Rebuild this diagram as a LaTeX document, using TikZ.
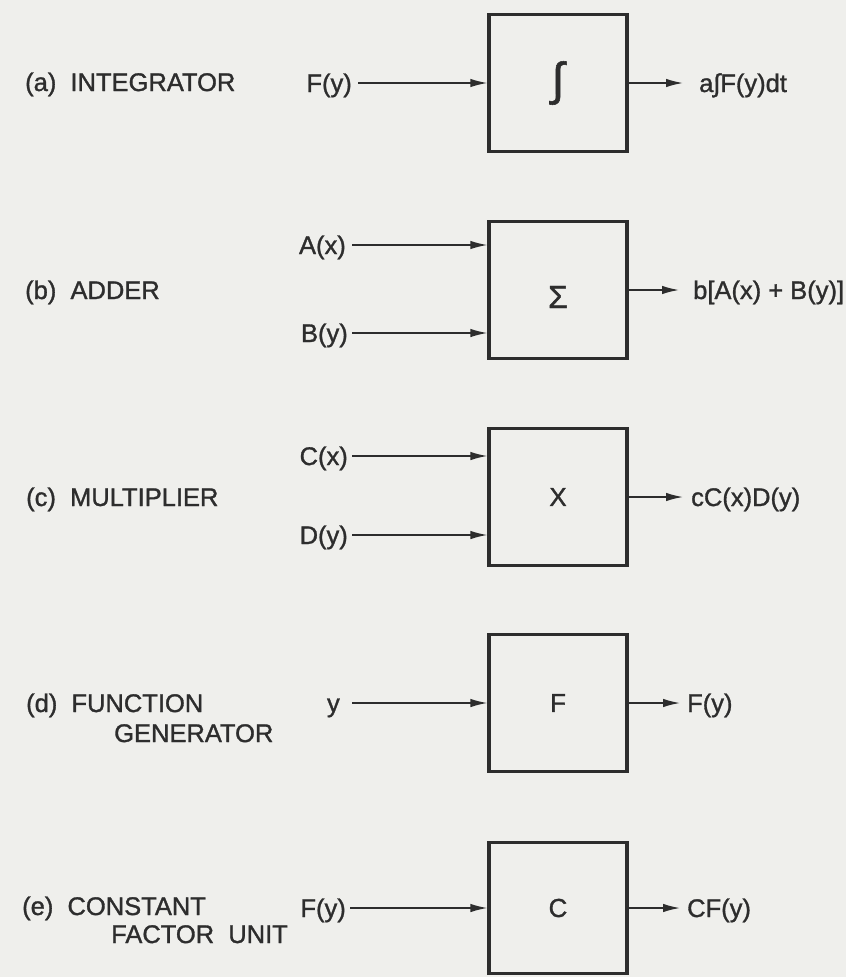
\documentclass[tikz,border=0pt]{standalone}
\usepackage{fontspec}
\setmainfont{Liberation Sans}[FakeBold=1.2]
\usetikzlibrary{arrows.meta}
\definecolor{paper}{RGB}{239,239,236}
\definecolor{ink}{RGB}{45,45,45}

\begin{document}
\begin{tikzpicture}[x=1pt,y=1pt,
  unit/.style={draw=ink, line width=3.2pt, minimum width=138pt, minimum height=137pt, inner sep=0pt, text=ink, font=\fontsize{26}{30}\selectfont},
  lbl/.style={text=ink, inner sep=0pt, text height=18pt, text depth=0pt, font=\fontsize{25.5}{30}\selectfont},
  sig/.style={draw=ink, line width=1.5pt, -{Latex[length=17pt,width=8.5pt]}}]
\useasboundingbox[fill=paper] (0,0) rectangle (846,-977);
% the five units
\node[unit, font=\fontsize{46}{50}\selectfont] (intg) at (558,-83) {∫};
\node[unit, font=\fontsize{32}{36}\selectfont] (addr) at (558,-290) {\raisebox{-18pt}[0pt][0pt]{Σ}};
\node[unit] (mult) at (558,-497) {X};
\node[unit] (fgen) at (558,-703) {F};
\node[unit, minimum height=131pt] (cfu) at (558,-908) {C};
% names on the left
\node[lbl, anchor=west] (la) at (25,-82) {(a)\ \ INTEGRATOR};
\node[lbl, anchor=west] (lb) at (25,-290) {(b)\ \ ADDER};
\node[lbl, anchor=west] (lc) at (26,-497) {(c)\ \ MULTIPLIER};
\node[lbl, anchor=west] (ld) at (26,-703) {(d)\ \ FUNCTION};
\node[lbl, anchor=west] (ld2) at (114,-733) {GENERATOR};
\node[lbl, anchor=west] (le) at (22,-906) {(e)\ \ CONSTANT};
\node[lbl, anchor=west] (le2) at (111,-934) {FACTOR\ \ UNIT};
% inputs
\node[lbl, anchor=east, inner xsep=6pt] (ina) at (358,-83) {F(y)};
\node[lbl, anchor=east, inner xsep=6pt] (inb1) at (352,-245) {A(x)};
\node[lbl, anchor=east, inner xsep=4pt] (inb2) at (352,-333) {B(y)};
\node[lbl, anchor=east, inner xsep=4pt] (inc1) at (352,-456) {C(x)};
\node[lbl, anchor=east, inner xsep=4pt] (inc2) at (352,-535) {D(y)};
\node[lbl, anchor=east, inner xsep=12pt] (ind) at (352,-703) {y};
\node[lbl, anchor=east, inner xsep=4pt] (ine) at (350,-908) {F(y)};
% outputs
\node[lbl, anchor=west, inner xsep=16pt] (outa) at (683,-83) {a∫F(y)dt};
\node[lbl, anchor=west, inner xsep=14pt] (outb) at (679,-290) {b[A(x) + B(y)]};
\node[lbl, anchor=west, inner xsep=8pt] (outc) at (683,-497) {cC(x)D(y)};
\node[lbl, anchor=west, inner xsep=7pt] (outd) at (680,-703) {F(y)};
\node[lbl, anchor=west, inner xsep=7pt] (oute) at (680,-908) {CF(y)};
% signal lines
\draw[sig] (ina.east) -- (ina.east -| intg.west);
\draw[sig] (inb1.east) -- (inb1.east -| addr.west);
\draw[sig] (inb2.east) -- (inb2.east -| addr.west);
\draw[sig] (inc1.east) -- (inc1.east -| mult.west);
\draw[sig] (inc2.east) -- (inc2.east -| mult.west);
\draw[sig] (ind.east) -- (ind.east -| fgen.west);
\draw[sig] (ine.east) -- (ine.east -| cfu.west);
\draw[sig] (intg.east) -- (outa.west);
\draw[sig] (addr.east) -- (outb.west);
\draw[sig] (mult.east) -- (outc.west);
\draw[sig] (fgen.east) -- (outd.west);
\draw[sig] (cfu.east) -- (oute.west);
\end{tikzpicture}
\end{document}
